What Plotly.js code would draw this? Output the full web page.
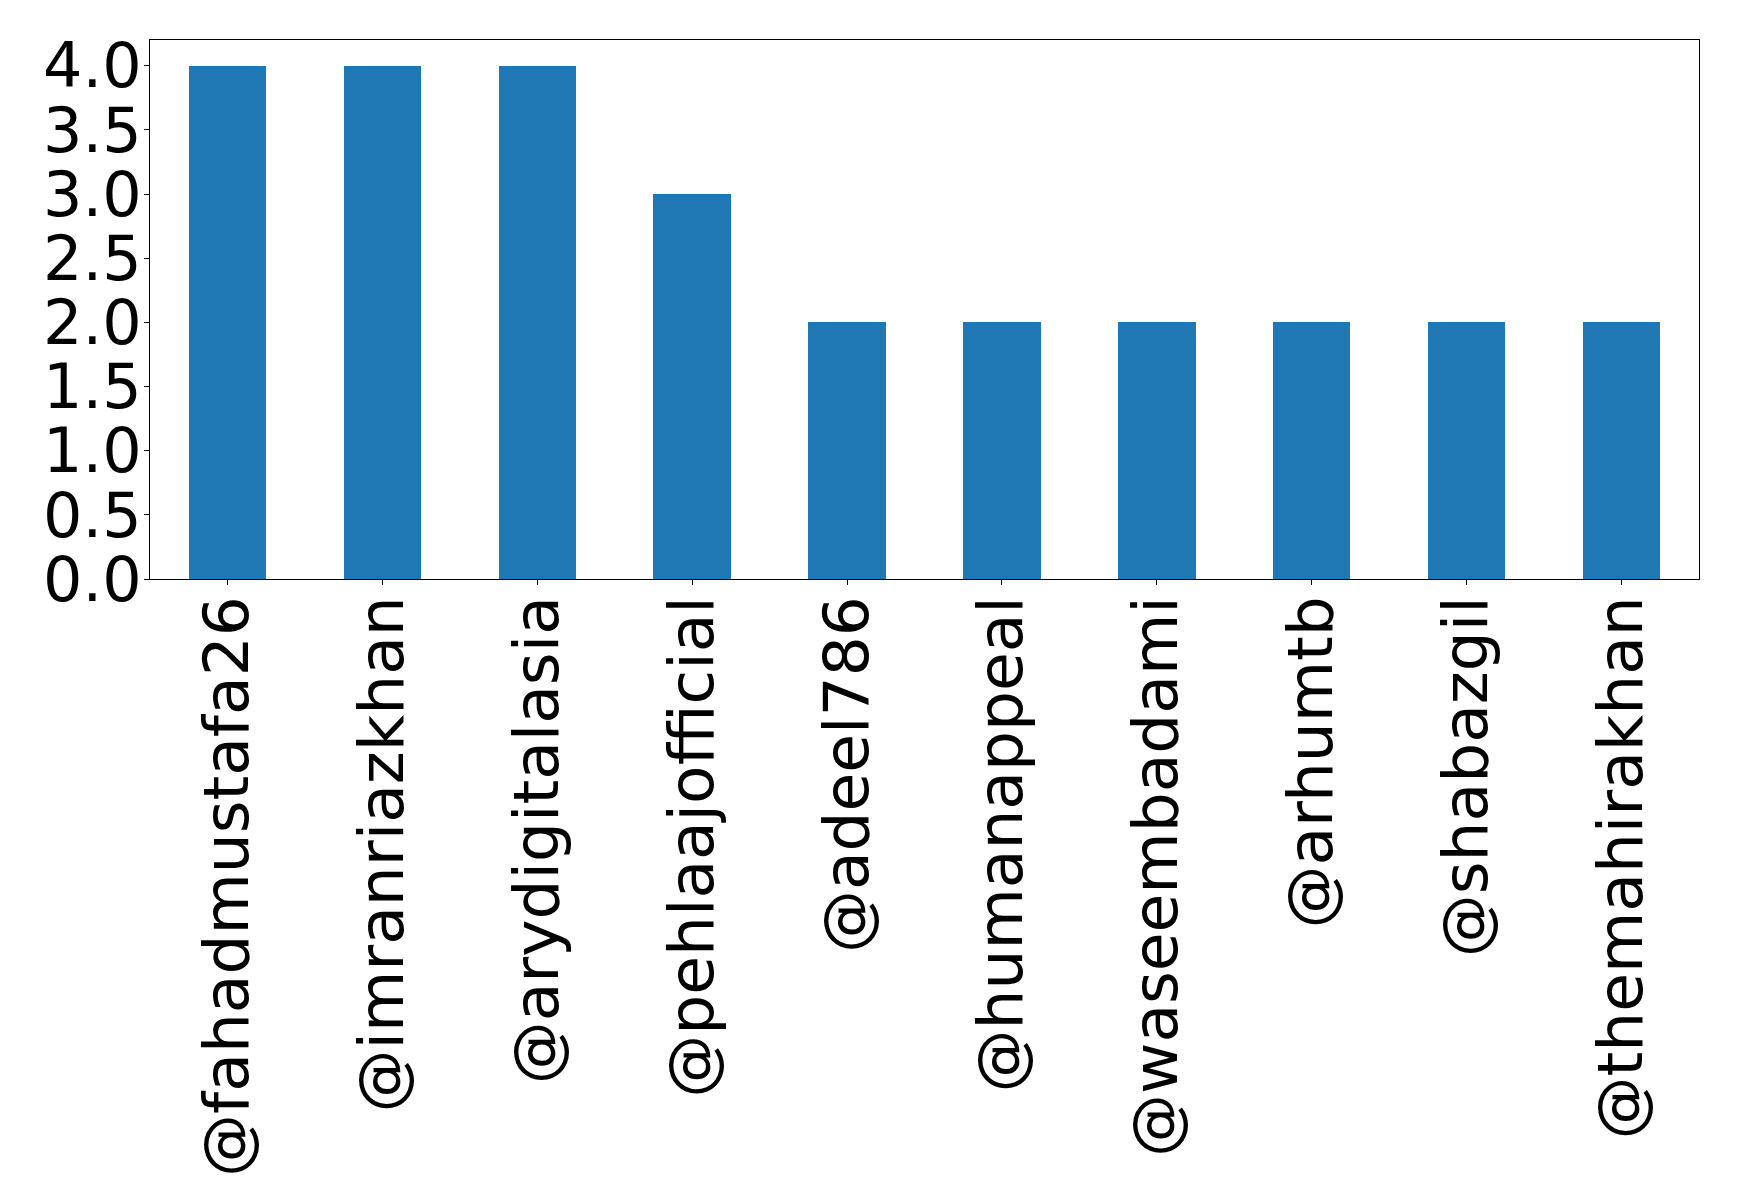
<!DOCTYPE html>
<html>
<head>
<meta charset="utf-8">
<script src="https://cdn.plot.ly/plotly-3.0.1.min.js"></script>
<style>html,body{margin:0;padding:0;background:#fff;}#chart{width:1739px;height:1204px;}</style>
</head>
<body>
<div id="chart"></div>
<script>
const categories = ["@fahadmustafa26","@imranriazkhan","@arydigitalasia","@pehlaajofficial","@adeel786","@humanappeal","@waseembadami","@arhumtb","@shabazgil","@themahirakhan"];
const counts = [4, 4, 4, 3, 2, 2, 2, 2, 2, 2];
const yTickVals = [0, 0.5, 1, 1.5, 2, 2.5, 3, 3.5, 4];
const yTickText = ["0.0","0.5","1.0","1.5","2.0","2.5","3.0","3.5","4.0"];

const trace = {
  type: "bar",
  x: categories.map((c, i) => i),
  y: counts,
  width: 0.5,
  marker: {color: "#1f77b4", line: {width: 0}},
  hoverinfo: "x+y"
};

const layout = {
  width: 1739, height: 1204,
  margin: {l: 150, r: 40, t: 40, b: 625, pad: 0},
  paper_bgcolor: "#fff", plot_bgcolor: "#fff",
  font: {family: "DejaVu Sans", color: "#000", size: 63},
  showlegend: false,
  bargap: 0,
  xaxis: {
    range: [-0.5, 9.5],
    tickmode: "array",
    tickvals: categories.map((c, i) => i),
    ticktext: categories,
    tickangle: -90,
    ticks: "outside", ticklen: 5, tickwidth: 1, tickcolor: "#000",
    showline: true, mirror: true, linecolor: "#000", linewidth: 1,
    showgrid: false, zeroline: false,
    tickfont: {family: "DejaVu Sans", size: 63, color: "#000"},
    ticklabelstandoff: -14
  },
  yaxis: {
    range: [0, 4.2],
    tickmode: "array",
    tickvals: yTickVals,
    ticktext: yTickText,
    ticks: "outside", ticklen: 5, tickwidth: 1, tickcolor: "#000",
    showline: true, mirror: true, linecolor: "#000", linewidth: 1,
    showgrid: false, zeroline: false,
    tickfont: {family: "DejaVu Sans", size: 62, color: "#000"},
    ticklabelstandoff: -10
  }
};

Plotly.newPlot("chart", [trace], layout, {displayModeBar: false, staticPlot: true});
</script>
</body>
</html>
